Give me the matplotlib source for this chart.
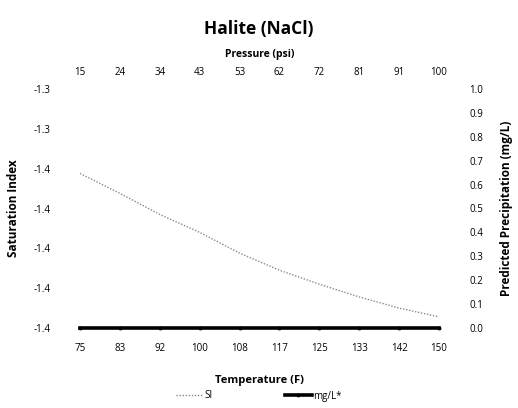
import matplotlib
matplotlib.use("Agg")
import matplotlib.pyplot as plt
import numpy as np

plt.rcParams['font.family'] = ['Open Sans', 'DejaVu Sans']

temperature = [75, 83.33, 91.67, 100, 108.33, 116.67, 125, 133.33, 141.67, 150]
si_values = [-1.3512, -1.3562, -1.3615, -1.3660, -1.3712, -1.3755, -1.3790, -1.3822, -1.3850, -1.3872]
mgl_values = [0, 0, 0, 0, 0, 0, 0, 0, 0, 0]

temp_ticks = [75, 83.33, 91.67, 100, 108.33, 116.67, 125, 133.33, 141.67, 150]
temp_labels = ['75', '83', '92', '100', '108', '117', '125', '133', '142', '150']
pressure_labels = ['15', '24', '34', '43', '53', '62', '72', '81', '91', '100']
si_ticks = [-1.33, -1.34, -1.35, -1.36, -1.37, -1.38, -1.39]
si_labels = ['-1.3', '-1.3', '-1.4', '-1.4', '-1.4', '-1.4', '-1.4']
mgl_ticks = [0.0, 0.1, 0.2, 0.3, 0.4, 0.5, 0.6, 0.7, 0.8, 0.9, 1.0]

fig = plt.figure(figsize=(5.18, 4.08), dpi=100)
ax = fig.add_axes([80/518, 1-328/408, (439-80)/518, (328-89)/408])

ax.plot(temperature, si_values, color='#8a8a8a', linestyle=(0, (1, 1.2)), linewidth=1.0, label='SI')
ax.set_xlim(75, 150)
ax.set_ylim(-1.39, -1.33)
ax.set_xticks(temp_ticks)
ax.set_xticklabels(temp_labels)
ax.set_yticks(si_ticks)
ax.set_yticklabels(si_labels)
ax.tick_params(axis='y', length=0, labelsize=7, pad=21)
ax.tick_params(axis='x', length=0, labelsize=7, pad=11)
for s in ax.spines.values():
    s.set_visible(False)
ax.set_ylabel('Saturation Index', fontsize=8.5, fontweight='bold', labelpad=10)
ax.set_xlabel('Temperature (F)', fontsize=8, fontweight='bold', labelpad=15)

ax2 = ax.twinx()
ax2.plot(temperature, mgl_values, color='black', linewidth=2.6, marker='o', markersize=1.8, label='mg/L*', clip_on=False)
ax2.set_ylim(0, 1.0)
ax2.set_yticks(mgl_ticks)
ax2.set_yticklabels([f'{v:.1f}' for v in mgl_ticks])
ax2.tick_params(length=0, labelsize=7, pad=22)
for s in ax2.spines.values():
    s.set_visible(False)
ax2.set_ylabel('Predicted Precipitation (mg/L)', fontsize=8.5, fontweight='bold', labelpad=12)

ax3 = ax.twiny()
ax3.set_xlim(75, 150)
ax3.set_xticks(temp_ticks)
ax3.set_xticklabels(pressure_labels)
ax3.tick_params(length=0, labelsize=7, pad=8)
for s in ax3.spines.values():
    s.set_visible(False)
ax3.set_xlabel('Pressure (psi)', fontsize=7.5, fontweight='bold', labelpad=7)

fig.text(0.5, 1-29/408, 'Halite (NaCl)', ha='center', va='center', fontsize=12.5, fontweight='bold')

h1, l1 = ax.get_legend_handles_labels()
h2, l2 = ax2.get_legend_handles_labels()
fig.legend(h1 + h2, l1 + l2, loc='center', bbox_to_anchor=(0.5, 1-396/408), ncol=2,
           frameon=False, fontsize=7, handlelength=2.7, columnspacing=7.5, handletextpad=0.2)

fig.savefig('out.png', dpi=100)
